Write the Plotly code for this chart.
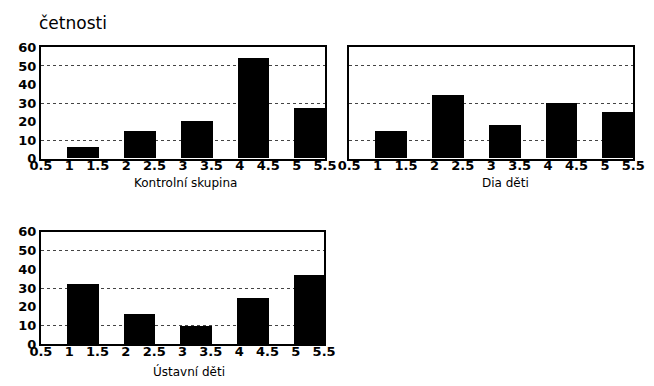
import plotly.graph_objects as go

# ---- data ----
bins = [1, 2, 3, 4, 5]
kontrolni = [6, 15, 20, 54, 27]
dia = [15, 34, 18, 30, 25]
ustavni = [32, 16, 10, 25, 37]
panel_titles = ["Kontrolní skupina", "Dia děti", "Ústavní děti"]
y_ticks = [0, 10, 20, 30, 40, 50, 60]
grid_vals = [10, 30, 50]
x_ticks = [0.5, 1, 1.5, 2, 2.5, 3, 3.5, 4, 4.5, 5, 5.5]

W, H = 654, 386

def px_x(a, b):
    return [a / W, b / W]

def px_y(top, bottom):
    return [1 - bottom / H, 1 - top / H]

panels = [
    dict(data=kontrolni, xd=px_x(30, 325), yd=px_y(42, 158), ylabels=True),
    dict(data=dia, xd=px_x(350, 645), yd=px_y(42, 158), ylabels=False),
    dict(data=ustavni, xd=px_x(30, 324), yd=px_y(234, 351), ylabels=True),
]

fig = go.Figure()
tickfont = dict(family="DejaVu Sans", size=13, color="black", weight="bold")
layout = {}
for i, p in enumerate(panels):
    n = i + 1
    xa = "x" if n == 1 else f"x{n}"
    ya = "y" if n == 1 else f"y{n}"
    fig.add_trace(go.Bar(
        x=bins, y=p["data"], xaxis=xa, yaxis=ya,
        offset=-0.04, width=0.56,
        marker=dict(color="black", line=dict(width=0)),
        showlegend=False,
    ))
    layout[f"xaxis{'' if n == 1 else n}"] = dict(
        domain=p["xd"], anchor=ya, range=[0.5, 5.5],
        tickmode="array", tickvals=x_ticks,
        ticktext=[f"{v:g}" for v in x_ticks],
        showgrid=False, zeroline=False, showline=True, mirror=True,
        linecolor="black", linewidth=2, ticks="", tickfont=tickfont,
        ticklabelstandoff=-6,
    )
    layout[f"yaxis{'' if n == 1 else n}"] = dict(
        domain=p["yd"], anchor=xa, range=[0, 60],
        tickmode="array", tickvals=y_ticks,
        showticklabels=p["ylabels"],
        showgrid=False, zeroline=False, showline=True, mirror=True,
        linecolor="black", linewidth=2, ticks="", tickfont=tickfont,
    )
    # overlay axis for dotted gridlines at 10, 30, 50
    oy = 3 + n
    layout[f"yaxis{oy}"] = dict(
        domain=p["yd"], anchor=xa, overlaying=ya, range=[0, 60],
        tickmode="array", tickvals=grid_vals, showticklabels=False,
        showgrid=True, gridcolor="#444444", griddash="dot", gridwidth=1,
        zeroline=False, showline=False, ticks="",
    )

fig.update_layout(**layout)

# dummy trace so grid overlay axes render
for n in range(1, 4):
    xa = "x" if n == 1 else f"x{n}"
    fig.add_trace(go.Scatter(x=[None], y=[None], xaxis=xa, yaxis=f"y{3 + n}",
                             showlegend=False, hoverinfo="skip"))

title_font = dict(family="DejaVu Sans", size=12, color="black")
title_pos = [(180, 183), (512, 183), (184, 379)]
for t, (cx, cy) in zip(panel_titles, title_pos):
    fig.add_annotation(text=t, x=cx / W, y=1 - cy / H, xref="paper", yref="paper",
                       showarrow=False, font=title_font, xanchor="center", yanchor="middle")

fig.add_annotation(text="četnosti", x=26 / W, y=1 - 17 / H, xref="paper", yref="paper",
                   showarrow=False, font=dict(family="DejaVu Sans", size=17, color="black"),
                   xanchor="left", yanchor="middle")

fig.update_layout(
    width=W, height=H, margin=dict(l=0, r=0, t=0, b=0),
    paper_bgcolor="white", plot_bgcolor="white", bargap=0,
)
fig.write_html("out.html")
